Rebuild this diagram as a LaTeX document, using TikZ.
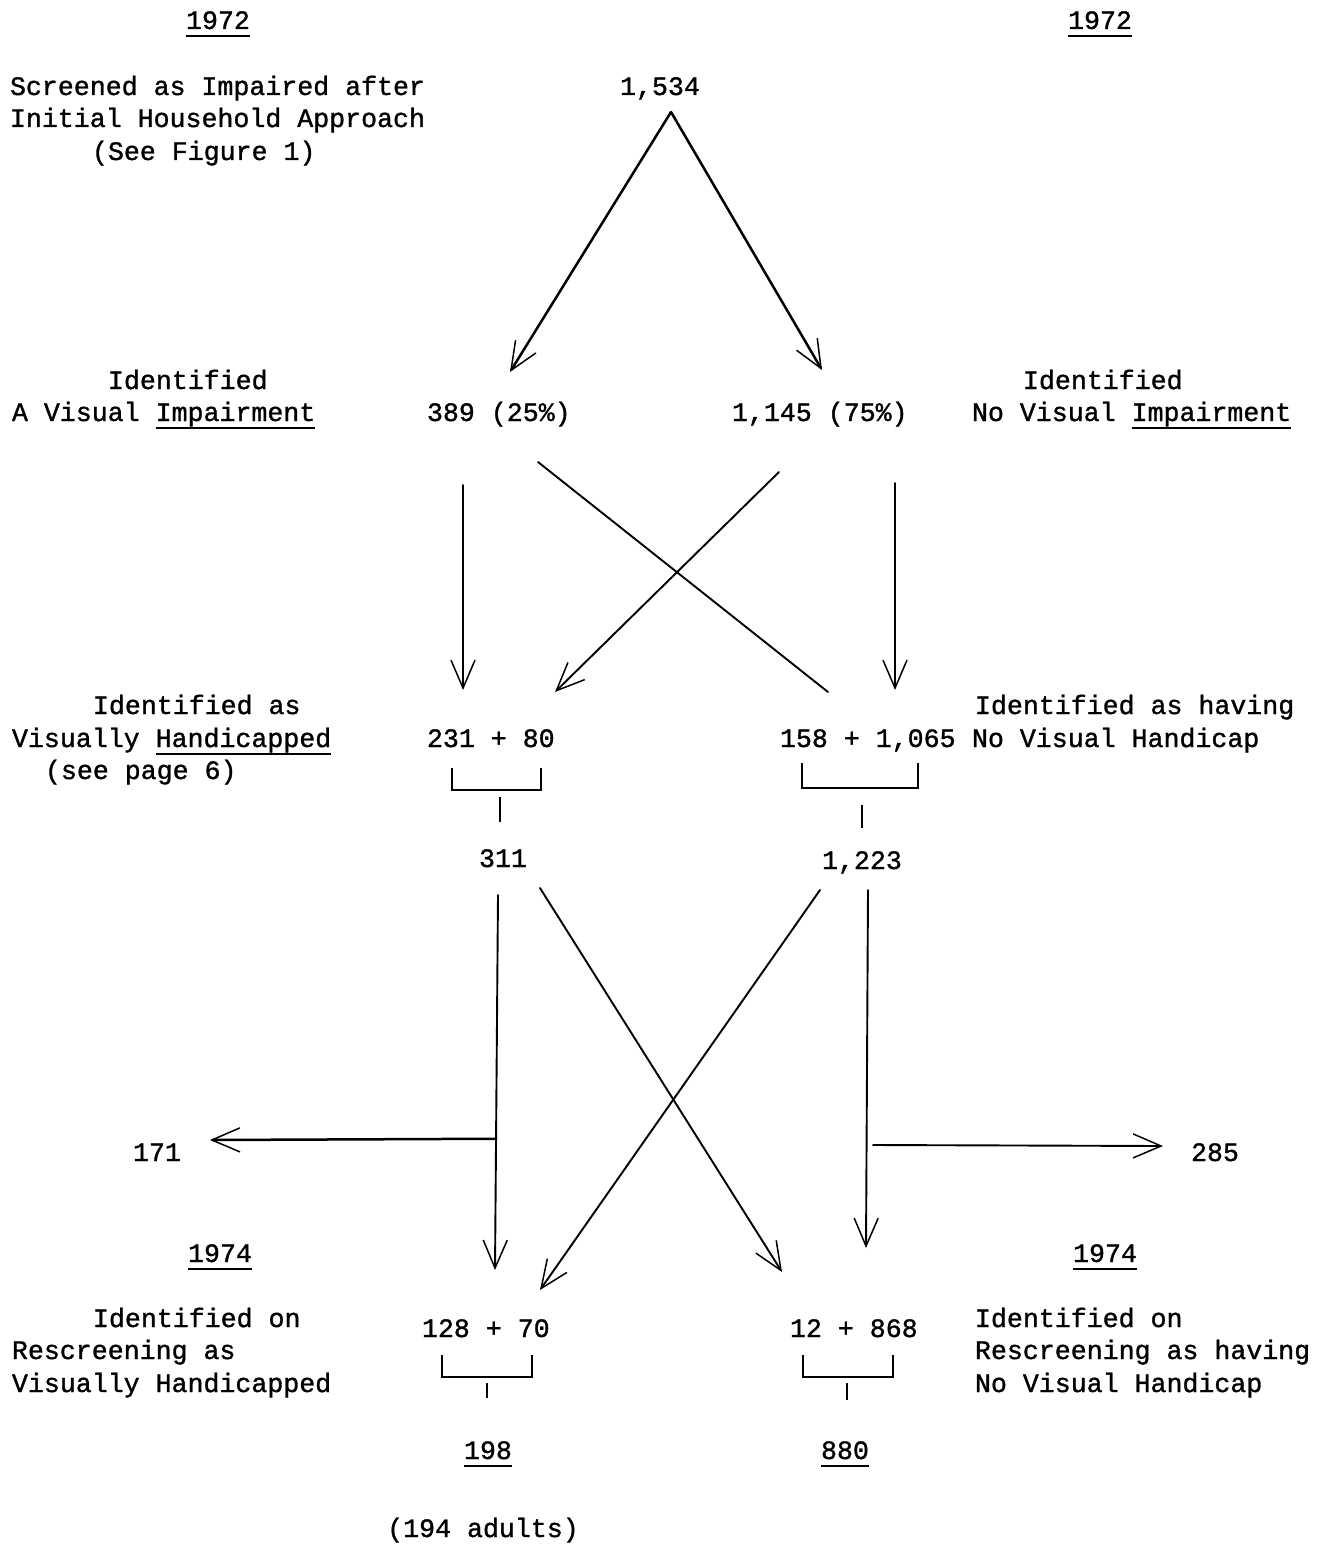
\documentclass[tikz,border=0pt]{standalone}
\usepackage{fontspec}
\setmonofont{Liberation Mono}[FakeBold=1.2]
\usetikzlibrary{arrows.meta,calc}

% typewriter-style underline: a rule set a little below the baseline
\newcommand\typeul[1]{\setbox0\hbox{#1}\rlap{\rule[-8pt]{\wd0}{1.8pt}}\box0}

\tikzset{
  txt/.style={inner sep=0pt, outer sep=0pt,
    font=\ttfamily\fontsize{26.6}{32.5}\selectfont},
  lt/.style={txt, anchor=base west},
  ct/.style={txt, anchor=base},
  flow/.style={line width=1.9pt, line cap=round},
  bold flow/.style={line width=2.5pt, line cap=round},
  tip/.style={-{Straight Barb[length=28pt,width=24pt,line width=1.5pt]}},
  brk/.style={line width=1.6pt}
}

\begin{document}
\begin{tikzpicture}[x=1pt,y=-1pt]
\useasboundingbox (0,0) rectangle (1335,1544);

% ---------- 1972 headings ----------
\node[ct] (yrL) at (218,29) {\typeul{1972}};
\node[ct] (yrR) at (1100,29) {\typeul{1972}};

\node[lt] (scr1) at (10,95)  {Screened as Impaired after};
\node[lt] (scr2) at (10,127) {Initial Household Approach};
\node[lt] (scr3) at (92,160) {(See Figure 1)};

\node[ct] (total) at (660,95) {1,534};

% ---------- first split ----------
\node[lt] (idL1) at (108,389) {Identified};
\node[lt] (idL2) at (12,421)  {A Visual \typeul{Impairment}};
\node[lt] (idR1) at (1023,389) {Identified};
\node[lt] (idR2) at (972,421)  {No Visual \typeul{Impairment}};

\node[lt] (imp) at (427,421) {389 (25\%)};
\node[lt] (noimp) at (732,421) {1,145 (75\%)};

\coordinate (s0) at ($(total.base)+(11,17)$);
\coordinate (e389) at ($(imp.base west)+(83,-49)$);
\coordinate (e1145) at ($(noimp.base west)+(90,-51)$);
\draw[bold flow,tip] (s0) -- (e389);
\draw[bold flow,tip] (s0) -- (e1145);

% ---------- 1972 handicap classification ----------
\node[lt] (hcL1) at (93,714)  {Identified as};
\node[lt] (hcL2) at (12,747)  {Visually \typeul{Handicapped}};
\node[lt] (hcL3) at (45,779)  {(see page 6)};
\node[lt] (hcR1) at (975,714) {Identified as having};
\node[lt] (hcR2) at (972,747) {No Visual Handicap};

\node[lt] (hsum) at (427,747) {231 + 80};
\node[lt] (nsum) at (780,747) {158 + 1,065};

\coordinate (a3s) at ($(imp.base west)+(36,64)$);
\coordinate (a3e) at ($(hsum.base west)+(36,-57)$);
\coordinate (a4s) at ($(imp.base west)+(111,41)$);
\coordinate (a4e) at ($(nsum.base west)+(48,-55)$);
\coordinate (a5s) at ($(noimp.base west)+(47,51)$);
\coordinate (a5e) at ($(hsum.base west)+(128,-55)$);
\coordinate (a6s) at ($(noimp.base west)+(163,62)$);
\coordinate (a6e) at ($(nsum.base west)+(115,-57)$);
\draw[flow,tip] (a3s) -- (a3e);
\draw[flow] (a4s) -- (a4e);
\draw[flow,tip] (a5s) -- (a5e);
\draw[flow,tip] (a6s) -- (a6e);

% totals under brackets
\node[ct] (htot) at (503,867) {311};
\node[ct] (ntot) at (862,869) {1,223};

\draw[brk] (452,768) -- (452,790) -- (541,790) -- (541,768);
\draw[brk] (500,797) -- (500,822);
\draw[brk] (802,763) -- (802,788) -- (918,788) -- (918,763);
\draw[brk] (862,805) -- (862,828);

% ---------- rescreening ----------
\node[ct] (lost1) at (157,1161) {171};
\node[ct] (lost2) at (1215,1161) {285};

\node[ct] (yrL2) at (220,1262) {\typeul{1974}};
\node[ct] (yrR2) at (1105,1262) {\typeul{1974}};

\node[lt] (rsL1) at (93,1327) {Identified on};
\node[lt] (rsL2) at (12,1359) {Rescreening as};
\node[lt] (rsL3) at (12,1392) {Visually Handicapped};
\node[lt] (rsR1) at (975,1327) {Identified on};
\node[lt] (rsR2) at (975,1359) {Rescreening as having};
\node[lt] (rsR3) at (975,1392) {No Visual Handicap};

\node[lt] (hsum2) at (422,1337) {128 + 70};
\node[lt] (nsum2) at (790,1337) {12 + 868};

\coordinate (b1s) at ($(htot.base)+(-5,28)$);
\coordinate (b1e) at ($(hsum2.base west)+(73,-67)$);
\coordinate (b2s) at ($(htot.base)+(37,21)$);
\coordinate (b2e) at ($(nsum2.base west)+(-8,-65)$);
\coordinate (b3s) at ($(ntot.base)+(-42,21)$);
\coordinate (b3e) at ($(hsum2.base west)+(118,-47)$);
\coordinate (b4s) at ($(ntot.base)+(6,21)$);
\coordinate (b4e) at ($(nsum2.base west)+(76,-89)$);
\draw[flow,tip] (b1s) -- (b1e);
\draw[flow,tip] (b2s) -- (b2e);
\draw[flow,tip] (b3s) -- (b3e);
\draw[flow,tip] (b4s) -- (b4e);

% drop-outs branching off the vertical flows
\coordinate (d1) at ($(b1s)!0.65!(b1e)$);
\coordinate (d2) at ($(b4s)+(5,255)$);
\draw[bold flow,tip] (d1) -- ($(lost1.base)+(53,-21)$);
\draw[flow,tip] (d2) -- ($(lost2.base)+(-52,-15)$);

\draw[brk] (442,1355) -- (442,1377) -- (532,1377) -- (532,1355);
\draw[brk] (487,1383) -- (487,1398);
\draw[brk] (803,1355) -- (803,1377) -- (893,1377) -- (893,1355);
\draw[brk] (847,1383) -- (847,1400);

\node[ct] (htot2) at (488,1459) {\typeul{198}};
\node[ct] (ntot2) at (845,1459) {\typeul{880}};
\node[ct] (adults) at (483,1537) {(194 adults)};
\end{tikzpicture}
\end{document}
